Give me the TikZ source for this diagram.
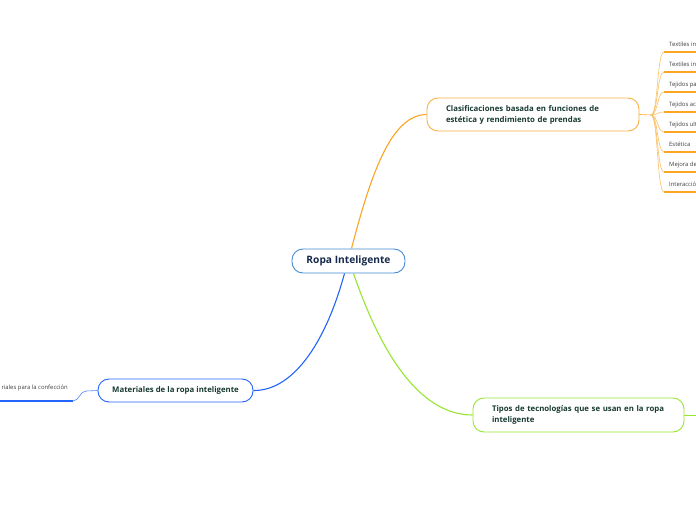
\documentclass[tikz,border=0pt]{standalone}
\usepackage{fontspec}
\setmainfont{Open Sans}
\usepackage{tikz}
\usetikzlibrary{positioning}
\definecolor{rm-text}{RGB}{24,58,50}
\definecolor{rm-navy}{RGB}{22,40,75}
\definecolor{rm-root}{RGB}{70,140,210}
\definecolor{rm-orange}{RGB}{250,165,35}
\definecolor{rm-blue}{RGB}{35,100,250}
\definecolor{rm-green}{RGB}{150,230,50}

\begin{document}
\begin{tikzpicture}[
  x=1pt, y=-1pt,
  topic/.style={rectangle, draw, rounded corners=11pt, fill=white, line width=0.9pt, text=rm-text, font=\fontsize{7.8}{11}\selectfont\bfseries},
  leaf/.style={inner xsep=5pt, inner ysep=5pt, text depth=0pt, text=black!75, font=\fontsize{5.9}{6.5}\selectfont},
  link/.style={line width=1.1pt},
  twig/.style={line width=0.6pt},
  bar/.style={line width=1.4pt}
]
  \useasboundingbox (0,0) rectangle (696,520);
  \fill[white] (0,0) rectangle (696,520);
  \clip (0,0) rectangle (696,520);

  \node[topic, draw=rm-root, text=rm-navy, font=\fontsize{10.2}{12}\selectfont\bfseries, minimum width=113pt, minimum height=24pt] (root) at (348.5,261) {Ropa Inteligente};
  \node[topic, draw=rm-orange!85, align=left, text width=174pt, inner xsep=19pt, minimum height=33pt] (clas) at (533,114.5) {Clasificaciones basada en funciones de\\estética y rendimiento de prendas};
  \node[topic, draw=rm-blue, minimum width=155pt, minimum height=23pt] (mat) at (175.5,390.5) {Materiales de la ropa inteligente};
  \node[topic, draw=rm-green, align=left, text width=173pt, inner xsep=19pt, minimum height=34pt] (tipos) at (578.5,415) {Tipos de tecnologías que se usan en la ropa\\inteligente};

  \draw[link, rm-orange] ([xshift=3pt]root.north) .. controls (372,170) and (392,115) .. (clas.west);
  \draw[link, rm-blue] ([xshift=-4pt]root.south) .. controls (325,345) and (292,391) .. (mat.east);
  \draw[link, rm-green] ([xshift=5pt]root.south) .. controls (385,365) and (425,415) .. (tipos.west);

  \coordinate (hub) at (651,115);
  \draw[twig, rm-orange] (clas.east) -- (hub);
  \foreach \y/\txt [count=\i] in {52/Textiles in, 72/Textiles in, 92/Tejidos pa, 112/Tejidos ac, 132/Tejidos ult, 152/Estética, 172/Mejora de, 192/Interacció} {
    \node[leaf, anchor=south west] (o\i) at (664,\y) {\txt};
    \draw[twig, rm-orange!70] (hub) .. controls (658,115) and (657,\y) .. (o\i.south west);
    \draw[bar, rm-orange] (o\i.south west) -- (o\i.south east);
  }

  \node[leaf, anchor=south east, inner ysep=11pt] (conf) at (73,401) {riales para la confección};
  \draw[twig, rm-blue!80] (mat.west) -- (86,391) .. controls (80,391) and (79,401) .. (conf.south east);
  \draw[bar, rm-blue] (conf.south east) -- ([xshift=-20pt]conf.south west);

  \draw[twig, rm-green] (tipos.east) -- ++(20,0);
\end{tikzpicture}
\end{document}
